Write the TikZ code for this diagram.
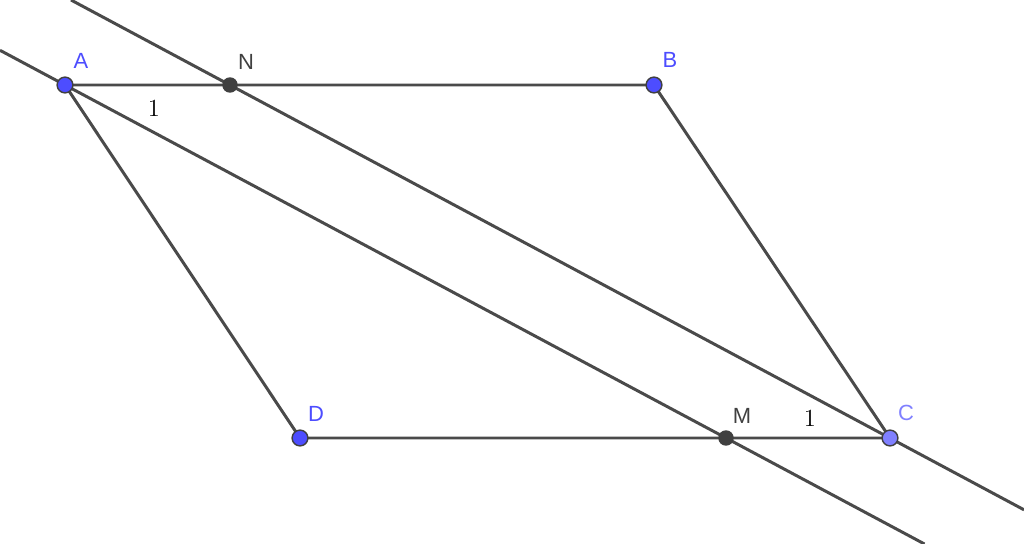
\documentclass[tikz,border=0pt]{standalone}
\usepackage{fontspec}
\setsansfont{Liberation Sans}
\definecolor{ptblue}{HTML}{4D4DFF}
\definecolor{ptlight}{HTML}{8080FF}
\definecolor{ptgray}{HTML}{404040}
\definecolor{linegray}{HTML}{4A4A4A}
\tikzset{
  seg/.style={draw=linegray, line width=1.7pt},
  pt/.style={circle, draw=ptgray, line width=0.8pt, inner sep=0pt, minimum size=9pt},
  lbl/.style={font=\sffamily\fontsize{12.5}{14}\selectfont, inner sep=0pt},
  one/.style={font=\fontsize{14}{16}\selectfont, inner sep=0pt}
}
\begin{document}
\begin{tikzpicture}[x=0.02cm, y=-0.02cm]
        \useasboundingbox (0,0) rectangle (1024,544);

        % Sommets et points
        \coordinate (A) at (65,85);
        \coordinate (N) at (230,85);
        \coordinate (B) at (654,85);
        \coordinate (D) at (300,438);
        \coordinate (M) at (726,438);
        \coordinate (C) at (890,438);

        % Extremites des droites
        \coordinate (AMs) at (0,50.3);
        \coordinate (AMe) at (924.5,544);
        \coordinate (NCs) at (71,0);
        \coordinate (NCe) at (1024,509.8);

        % Parallelogramme
        \draw[seg] (A) -- (B) -- (C) -- (D) -- cycle;

        % Droites AM et CN
        \draw[seg] (AMs) -- (AMe);
        \draw[seg] (NCs) -- (NCe);

        % Points
        \node[pt, fill=ptblue] (pA) at (A) {};
        \node[pt, fill=ptblue] (pB) at (B) {};
        \node[pt, fill=ptblue] (pD) at (D) {};
        \node[pt, fill=ptlight] (pC) at (C) {};
        \node[pt, fill=ptgray, minimum size=8pt] (pN) at (N) {};
        \node[pt, fill=ptgray, minimum size=8pt] (pM) at (M) {};

        % Noms
        \node[lbl, ptblue] (lA) at (81,61) {A};
        \node[lbl, ptgray] (lN) at (246,62) {N};
        \node[lbl, ptblue] (lB) at (670,60) {B};
        \node[lbl, ptblue] (lD) at (316,414) {D};
        \node[lbl, ptgray] (lM) at (742,416) {M};
        \node[lbl, ptlight] (lC) at (906,413) {C};

        % Angles egaux
        \node[one] (o1) at (154,108) {1};
        \node[one] (o2) at (810,418) {1};
    \end{tikzpicture}
\end{document}
